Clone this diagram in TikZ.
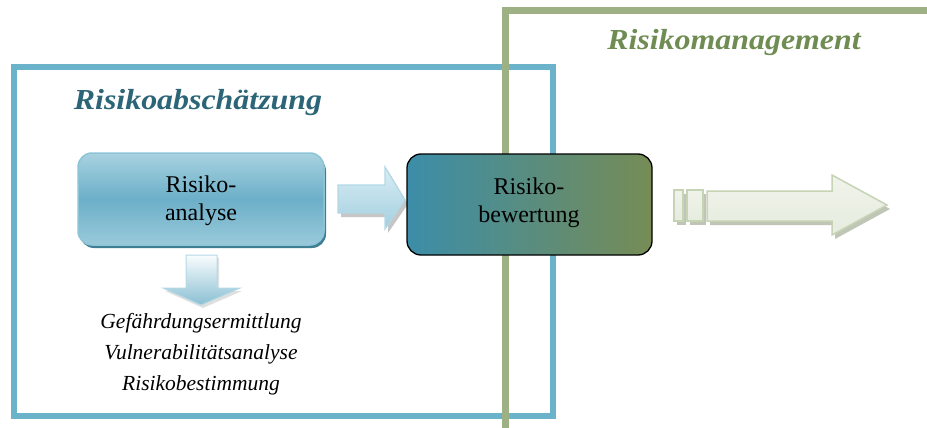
\documentclass[tikz,border=0pt]{standalone}
\usepackage{fontspec}
\setmainfont{Liberation Serif}
\newfontfamily\titlefont[FakeStretch=1.1]{Liberation Serif}
\usetikzlibrary{positioning}

\definecolor{frameblue}{HTML}{6BB3CB}
\definecolor{framegreen}{HTML}{9EB184}
\definecolor{titleblue}{HTML}{2C6577}
\definecolor{titlegreen}{HTML}{6F8C52}
\definecolor{anatop}{HTML}{A8D2E0}
\definecolor{anamid}{HTML}{6CAFC8}
\definecolor{anabot}{HTML}{9ACADB}
\definecolor{anaborder}{HTML}{8DC4D6}
\definecolor{anashadow}{HTML}{3F7F93}
\definecolor{bewleft}{HTML}{3C8DA9}
\definecolor{bewright}{HTML}{768C55}
\definecolor{arrtop}{HTML}{D8EDF4}
\definecolor{arrbot}{HTML}{A3CFDF}
\definecolor{arrborder}{HTML}{B3D8E5}
\definecolor{grnfill}{HTML}{E6ECDE}
\definecolor{grnfilltop}{HTML}{F0F3EB}
\definecolor{grnborder}{HTML}{C6D3B5}
\definecolor{grnshadow}{HTML}{A4AE97}

\tikzset{
  frame/.style={line width=6.5pt},
  titletext/.style={font=\titlefont\fontsize{29}{32}\selectfont\bfseries\itshape, inner sep=0pt, anchor=base},
  boxtext/.style={font=\fontsize{24}{28.5}\selectfont, align=center, inner sep=0pt, text=black},
  listtext/.style={font=\fontsize{21.5}{24}\selectfont\itshape, inner sep=0pt, anchor=base},
  anabox/.style={rounded corners=14pt, draw=anaborder, line width=1.5pt,
    top color=anatop, bottom color=anabot, middle color=anamid},
  bewbox/.style={rounded corners=14pt, draw=black, line width=1.3pt,
    left color=bewleft, right color=bewright},
  bluearrow/.style={draw=arrborder, line width=1.2pt, top color=arrtop, bottom color=arrbot},
  greenarrow/.style={draw=grnborder, line width=1.5pt, top color=grnfilltop, bottom color=grnfill},
  arrowshadow/.style={fill=gray, opacity=0.45},
}

\begin{document}
\begin{tikzpicture}[x=1pt,y=-1pt]
\useasboundingbox (0,0) rectangle (927,428);

% the two overlapping frames
\begin{scope}
  \clip (0,0) rectangle (927,428);
  \draw[frame, frameblue] (14,67) rectangle (553,416);
  \draw[frame, framegreen, line width=7pt] (505.5,10.5) rectangle (945,431);
\end{scope}

% frame titles
\node[titletext, text=titleblue] (tAbs) at (198,110) {Risikoabschätzung};
\node[titletext, text=titlegreen] (tMan) at (734,50) {Risikomanagement};

% Risikoanalyse box with its shadow
\fill[anashadow, rounded corners=14pt] (80,157) rectangle (326,248);
\path[anabox] (78,153) rectangle (324,245);
\node (ana) at (201,199) {};
\node[boxtext] (anaTxt) at (201,201) {Risiko-\\analyse};

% arrow from analysis to evaluation
\fill[arrowshadow] (341,189) -- (388,189) -- (388,171) -- (408,204) -- (388,233) -- (388,217) -- (341,217) -- cycle;
\path[bluearrow] (338,185) -- (385,185) -- (385,167) -- (405,200) -- (385,229) -- (385,213) -- (338,213) -- cycle;

% Risikobewertung box
\path[bewbox] (407,154) rectangle (652,255);
\node (bew) at (529.5,204.5) {};
\node[boxtext] (bewTxt) at (529,203) {Risiko-\\bewertung};

% arrow down to the list of steps
\fill[arrowshadow, opacity=0.25] (188,258) -- (219,258) -- (219,291) -- (242,291) -- (203,308) -- (165,291) -- (188,291) -- cycle;
\path[draw=arrborder, line width=1pt, top color=white!85!arrtop, bottom color=anamid!80!white]
  (186,255) -- (217,255) -- (217,288) -- (240,288) -- (201,305) -- (163,288) -- (186,288) -- cycle;

% list of steps
\node[listtext] (l1) at (201,328) {Gefährdungsermittlung};
\node[listtext] (l2) at (201,359) {Vulnerabilitätsanalyse};
\node[listtext] (l3) at (201,390) {Risikobestimmung};

% outgoing arrow into risk management
\fill[grnshadow, opacity=0.7] (677,194) rectangle (686,225);
\fill[grnshadow, opacity=0.7] (690,194) rectangle (706,225);
\fill[grnshadow, opacity=0.7] (710,195) -- (835,195) -- (835,179) -- (890,209) -- (835,239) -- (835,225) -- (710,225) -- cycle;
\path[greenarrow] (674,190) rectangle (683,221);
\path[greenarrow] (687,190) rectangle (703,221);
\path[greenarrow] (707,191) -- (832,191) -- (832,175) -- (887,205) -- (832,235) -- (832,221) -- (707,221) -- cycle;
\end{tikzpicture}
\end{document}
